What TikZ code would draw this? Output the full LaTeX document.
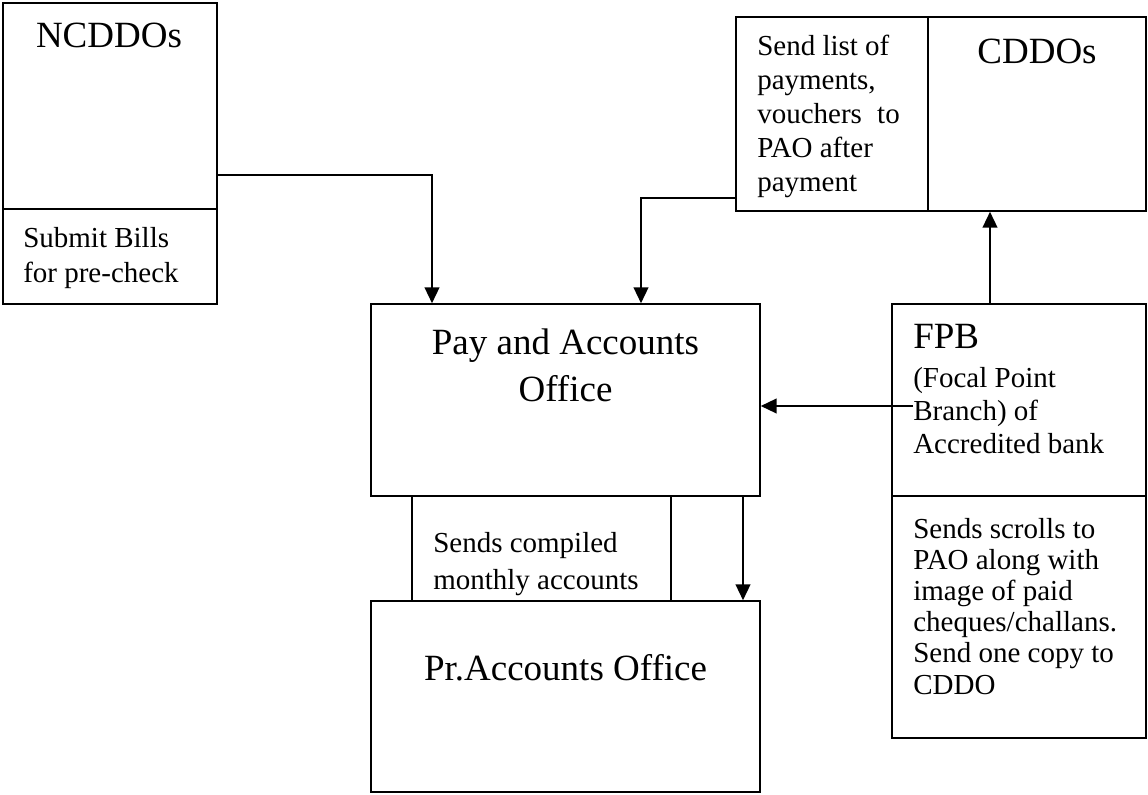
\documentclass[tikz,border=0pt]{standalone}
\usepackage{fontspec}
\setmainfont{Liberation Serif}
\usetikzlibrary{arrows.meta,fit}

% text blocks: first line's baseline is the node's baseline
\newcommand{\lefttext}[2]{\parbox[t]{260pt}{\raggedright\fontsize{21.75}{#1}\selectfont #2}}
\newcommand{\midtext}[2]{\parbox[t]{300pt}{\centering\fontsize{27.75}{#1}\selectfont #2}}

\tikzset{
  box/.style={draw, line width=1.1pt, inner sep=0pt},
  divider/.style={line width=1.1pt},
  conn/.style={line width=1.7pt, -{Triangle[length=12pt,width=11pt]}},
  big/.style={inner sep=0pt, font=\fontsize{27.75}{36}\selectfont},
  txt/.style={inner sep=0pt, anchor=base west},
}

\begin{document}
\begin{tikzpicture}[x=0.75pt,y=-0.75pt]
\useasboundingbox (0,0) rectangle (1148,795);

% boxes
\node[box, fit={(3,3) (217,304)}] (ncddo) {};
\draw[divider] (ncddo.west |- 0,209) -- (ncddo.east |- 0,209);

\node[box, fit={(736,17) (1146,211)}] (cddo) {};
\draw[divider] (928,0 |- cddo.north) -- (928,0 |- cddo.south);

\node[box, fit={(371,304) (760,496)}] (pao) {};
\node[box, fit={(412,496) (671,601)}] (comp) {};
\node[box, fit={(371,601) (760,792)}] (pr) {};

\node[box, fit={(892,304) (1146,738)}] (fpb) {};
\draw[divider] (fpb.west |- 0,496) -- (fpb.east |- 0,496);

% texts
\node[big, anchor=base] (tncddo) at (109,48) {NCDDOs};
\node[txt] (tsubmit) at (23,247) {\lefttext{26.25pt}{Submit Bills\\for pre-check}};

\node[big, anchor=base] (tcddo) at (1037,64) {CDDOs};
\node[txt] (tsend) at (757,56) {\lefttext{25.5pt}{Send list of\\payments,\\vouchers\hspace{6pt} to\\PAO after\\payment}};

\node[inner sep=0pt, anchor=base] (tpao) at (565.5,354) {\midtext{35.25pt}{Pay and Accounts\\Office}};
\node[txt] (tcomp) at (433,552) {\lefttext{27.75pt}{Sends compiled\\monthly accounts}};
\node[big, anchor=base] (tpr) at (565.5,680) {Pr.Accounts Office};

\node[big, anchor=base west] (tfpb) at (913,348) {FPB};
\node[txt] (tfocal) at (913,387) {\lefttext{24.75pt}{(Focal Point\\Branch) of\\Accredited bank}};
\node[txt] (tscroll) at (913,538) {\lefttext{23.4pt}{Sends scrolls to\\PAO along with\\image of paid\\cheques/challans.\\Send one copy to\\CDDO}};

% connectors
\coordinate (nA) at (217,47);
\coordinate (nB) at (432,175);
\draw[conn] (nA) -- (nA |- nB) -| (nB |- pao.north);

\coordinate (cA) at (736,198);
\coordinate (cB) at (641,250);
\draw[conn] (cA) -| (cB |- pao.north);

\coordinate (fA) at (990,304);
\draw[conn] (fA) -- (fA |- cddo.south);

\coordinate (fB) at (913,406);
\draw[conn] (fB) -- (fB -| pao.east);

\coordinate (pA) at (743,496);
\draw[conn] (pA) -- (pA |- pr.north);
\end{tikzpicture}
\end{document}
